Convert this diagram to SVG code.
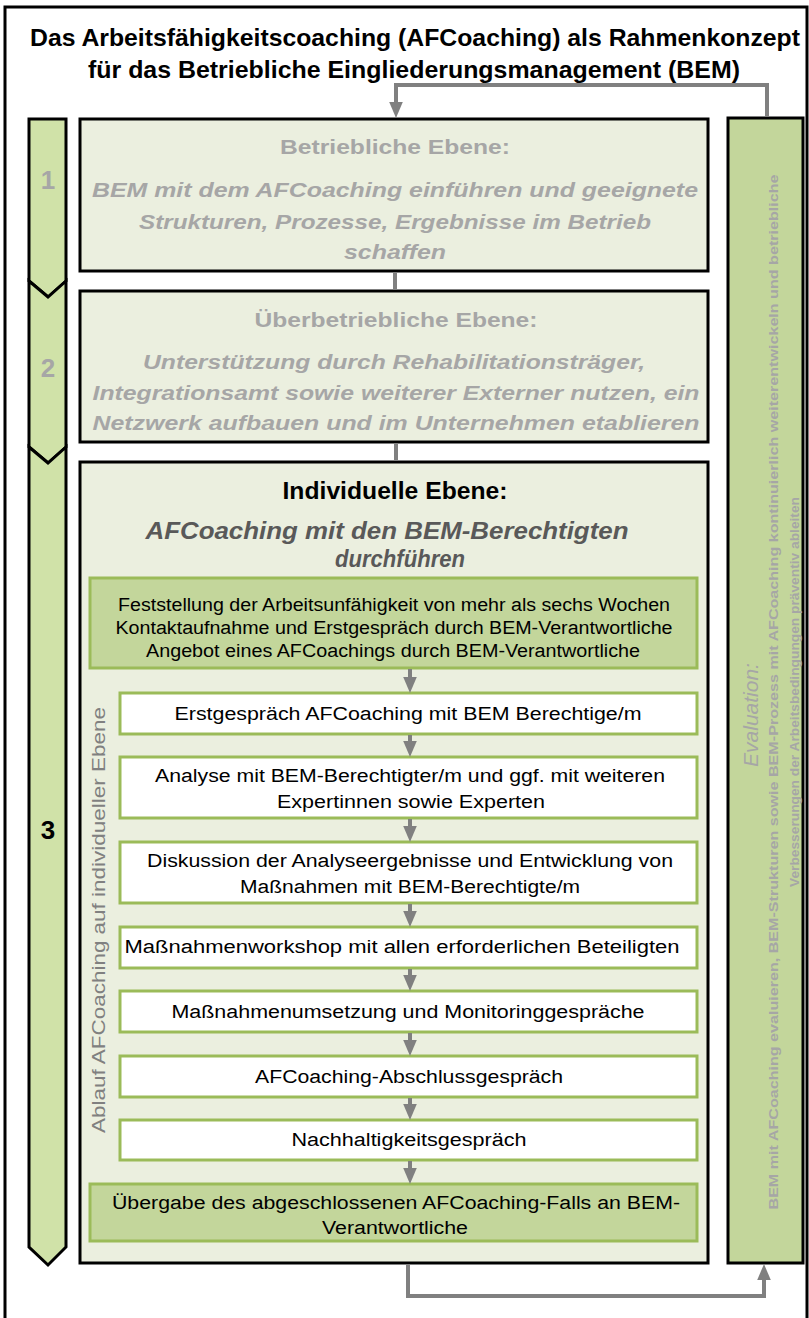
<svg xmlns="http://www.w3.org/2000/svg" width="809" height="1318" viewBox="0 0 809 1318">
<style>
.t{font-family:"Liberation Sans",Arial,sans-serif}
.lvl{fill:#ebefdf;stroke:#000;stroke-width:3}
.grn{fill:#c3d69b;stroke:#9bbb59;stroke-width:3}
.wht{fill:#fff;stroke:#9bbb59;stroke-width:3}
.chev{fill:#d0e2a8;stroke:#000;stroke-width:3;stroke-linejoin:miter}
.gh{font-weight:bold;fill:#a6a6a6;font-size:20px}
.gi{font-weight:bold;font-style:italic;fill:#a6a6a6;font-size:20px}
.in{fill:#000;font-size:18px}
.con{fill:none;stroke:#808080;stroke-width:4}
</style>
<defs>
<marker id="ah" markerWidth="4" markerHeight="4" refX="2" refY="2" orient="auto" markerUnits="strokeWidth" viewBox="0 0 4 4">
<path d="M0,0.3 L4,2 L0,3.7 Z" fill="#808080"/>
</marker>
</defs>
<rect x="5" y="7" width="802" height="1340" fill="#fff" stroke="#000" stroke-width="3"/>
<g id="title" class="t" font-weight="bold" font-size="24" text-anchor="middle" fill="#000">
<text x="415" y="46" textLength="770" lengthAdjust="spacingAndGlyphs">Das Arbeitsfähigkeitscoaching (AFCoaching) als Rahmenkonzept</text>
<text x="414" y="78" textLength="652" lengthAdjust="spacingAndGlyphs">für das Betriebliche Eingliederungsmanagement (BEM)</text>
</g>
<g id="steps">
<path class="chev" d="M29,119 H66 V281 L48,297 L29,281 Z"/>
<path class="chev" d="M29,281 L48,297 L66,281 V447 L48,463 L29,447 Z"/>
<path class="chev" d="M29,447 L48,463 L66,447 V1247 L48,1265 L29,1247 Z"/>
<text class="t" x="48" y="189" text-anchor="middle" font-size="26" font-weight="bold" fill="#a6a6a6">1</text>
<text class="t" x="48" y="377" text-anchor="middle" font-size="26" font-weight="bold" fill="#a6a6a6">2</text>
<text class="t" x="48" y="839" text-anchor="middle" font-size="26" font-weight="bold" fill="#000">3</text>
</g>
<g id="level1" class="t" text-anchor="middle">
<rect class="lvl" x="80" y="119" width="628" height="152"/>
<text class="gh" x="395" y="154" textLength="230" lengthAdjust="spacingAndGlyphs">Betriebliche Ebene:</text>
<text class="gi" x="395" y="197" textLength="606" lengthAdjust="spacingAndGlyphs">BEM mit dem AFCoaching einführen und geeignete</text>
<text class="gi" x="395" y="229" textLength="512" lengthAdjust="spacingAndGlyphs">Strukturen, Prozesse, Ergebnisse im Betrieb</text>
<text class="gi" x="395" y="259" textLength="102" lengthAdjust="spacingAndGlyphs">schaffen</text>
</g>
<g id="level2" class="t" text-anchor="middle">
<rect class="lvl" x="80" y="291" width="628" height="151"/>
<text class="gh" x="396" y="327" textLength="283" lengthAdjust="spacingAndGlyphs">Überbetriebliche Ebene:</text>
<text class="gi" x="394" y="369" textLength="502" lengthAdjust="spacingAndGlyphs">Unterstützung durch Rehabilitationsträger,</text>
<text class="gi" x="396" y="400" textLength="607" lengthAdjust="spacingAndGlyphs">Integrationsamt sowie weiterer Externer nutzen, ein</text>
<text class="gi" x="396" y="430" textLength="607" lengthAdjust="spacingAndGlyphs">Netzwerk aufbauen und im Unternehmen etablieren</text>
</g>
<g id="level3" class="t" text-anchor="middle">
<rect class="lvl" x="80" y="462" width="628" height="801"/>
<text x="395" y="499" font-size="24" font-weight="bold" fill="#000" textLength="225" lengthAdjust="spacingAndGlyphs">Individuelle Ebene:</text>
<text x="387" y="539" font-size="24" font-weight="bold" font-style="italic" fill="#595959" textLength="483" lengthAdjust="spacingAndGlyphs">AFCoaching mit den BEM-Berechtigten</text>
<text x="400" y="567" font-size="24" font-weight="bold" font-style="italic" fill="#595959" textLength="130" lengthAdjust="spacingAndGlyphs">durchführen</text>
<text transform="translate(105,920) rotate(-90)" x="0" y="0" font-size="18" fill="#808080" textLength="426" lengthAdjust="spacingAndGlyphs">Ablauf AFCoaching auf individueller Ebene</text>
</g>
<g id="s0" class="t" text-anchor="middle">
<rect class="grn" x="90" y="578" width="607" height="90"/>
<text class="in" x="394" y="611" textLength="552" lengthAdjust="spacingAndGlyphs">Feststellung der Arbeitsunfähigkeit von mehr als sechs Wochen</text>
<text class="in" x="394" y="634" textLength="557" lengthAdjust="spacingAndGlyphs">Kontaktaufnahme und Erstgespräch durch BEM-Verantwortliche</text>
<text class="in" x="393" y="657" textLength="494" lengthAdjust="spacingAndGlyphs">Angebot eines AFCoachings durch BEM-Verantwortliche</text>
</g>
<g id="s1" class="t" text-anchor="middle">
<rect class="wht" x="120" y="693" width="577" height="41"/>
<text class="in" x="408" y="720" textLength="467" lengthAdjust="spacingAndGlyphs">Erstgespräch AFCoaching mit BEM Berechtige/m</text>
</g>
<g id="s2" class="t" text-anchor="middle">
<rect class="wht" x="120" y="757" width="577" height="61"/>
<text class="in" x="410" y="782" textLength="510" lengthAdjust="spacingAndGlyphs">Analyse mit BEM-Berechtigter/m und ggf. mit weiteren</text>
<text class="in" x="411" y="808" textLength="268" lengthAdjust="spacingAndGlyphs">Expertinnen sowie Experten</text>
</g>
<g id="s3" class="t" text-anchor="middle">
<rect class="wht" x="120" y="842" width="577" height="61"/>
<text class="in" x="410" y="867" textLength="526" lengthAdjust="spacingAndGlyphs">Diskussion der Analyseergebnisse und Entwicklung von</text>
<text class="in" x="410" y="893" textLength="340" lengthAdjust="spacingAndGlyphs">Maßnahmen mit BEM-Berechtigte/m</text>
</g>
<g id="s4" class="t" text-anchor="middle">
<rect class="wht" x="120" y="927" width="577" height="41"/>
<text class="in" x="402" y="953" textLength="555" lengthAdjust="spacingAndGlyphs">Maßnahmenworkshop mit allen erforderlichen Beteiligten</text>
</g>
<g id="s5" class="t" text-anchor="middle">
<rect class="wht" x="120" y="991" width="577" height="41"/>
<text class="in" x="408" y="1018" textLength="473" lengthAdjust="spacingAndGlyphs">Maßnahmenumsetzung und Monitoringgespräche</text>
</g>
<g id="s6" class="t" text-anchor="middle">
<rect class="wht" x="120" y="1056" width="577" height="41"/>
<text class="in" x="409" y="1083" textLength="308" lengthAdjust="spacingAndGlyphs">AFCoaching-Abschlussgespräch</text>
</g>
<g id="s7" class="t" text-anchor="middle">
<rect class="wht" x="120" y="1120" width="577" height="40"/>
<text class="in" x="409" y="1146" textLength="235" lengthAdjust="spacingAndGlyphs">Nachhaltigkeitsgespräch</text>
</g>
<g id="s8" class="t" text-anchor="middle">
<rect class="grn" x="90" y="1184" width="607" height="57"/>
<text class="in" x="396" y="1209" textLength="568" lengthAdjust="spacingAndGlyphs">Übergabe des abgeschlossenen AFCoaching-Falls an BEM-</text>
<text class="in" x="395" y="1234" textLength="146" lengthAdjust="spacingAndGlyphs">Verantwortliche</text>
</g>
<g id="evaluation" class="t" text-anchor="middle">
<rect x="728" y="118" width="75" height="1145" fill="#c3d69b" stroke="#000" stroke-width="3"/>
<text transform="translate(758,715) rotate(-90)" font-size="21" font-style="italic" fill="#a6a6a6">Evaluation:</text>
<text transform="translate(778,692) rotate(-90)" font-size="13.5" font-weight="bold" fill="#a6a6a6" textLength="1035" lengthAdjust="spacingAndGlyphs">BEM mit AFCoaching evaluieren, BEM-Strukturen sowie BEM-Prozess mit AFCoaching kontinuierlich weiterentwickeln und betriebliche</text>
<text transform="translate(799,692) rotate(-90)" font-size="13.5" font-weight="bold" fill="#a6a6a6" textLength="390" lengthAdjust="spacingAndGlyphs">Verbesserungen der Arbeitsbedingungen präventiv ableiten</text>
</g>
<g id="connectors">
<path class="con" d="M767,116 V85 H396 V110" marker-end="url(#ah)"/>
<line class="con" x1="395" y1="272" x2="395" y2="290"/>
<line class="con" x1="396" y1="443" x2="396" y2="461"/>
<path class="con" d="M408,1264 V1296 H764 V1272" marker-end="url(#ah)"/>
<line class="con" x1="410" y1="669" x2="410" y2="685" marker-end="url(#ah)"/>
<line class="con" x1="410" y1="735" x2="410" y2="749" marker-end="url(#ah)"/>
<line class="con" x1="410" y1="819" x2="410" y2="834" marker-end="url(#ah)"/>
<line class="con" x1="410" y1="904" x2="410" y2="919" marker-end="url(#ah)"/>
<line class="con" x1="410" y1="969" x2="410" y2="983" marker-end="url(#ah)"/>
<line class="con" x1="410" y1="1033" x2="410" y2="1048" marker-end="url(#ah)"/>
<line class="con" x1="410" y1="1098" x2="410" y2="1112" marker-end="url(#ah)"/>
<line class="con" x1="410" y1="1161" x2="410" y2="1176" marker-end="url(#ah)"/>
</g>
</svg>
